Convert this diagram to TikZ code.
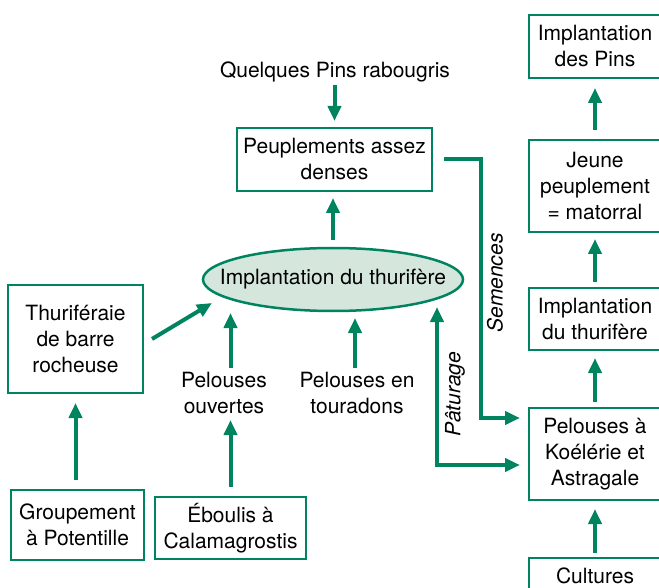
\documentclass[tikz,border=0pt]{standalone}
\usepackage{fontspec}
\setmainfont{TeX Gyre Heros}
\usetikzlibrary{arrows.meta,shapes.geometric}
\definecolor{vert}{HTML}{00845F}
\definecolor{vertpale}{HTML}{D5E6DD}
\begin{document}
\begin{tikzpicture}[x=1pt,y=-1pt,
  every node/.style={font=\fontsize{21}{26}\selectfont, align=center, inner sep=0pt, outer sep=0pt},
  box/.style={draw=vert, line width=2.5pt, fill=white},
  arr/.style={draw=vert, line width=4pt, -{Triangle[length=15pt,width=13pt]}},
  arrd/.style={draw=vert, line width=4pt, {Triangle[length=15pt,width=13pt]}-{Triangle[length=15pt,width=13pt]}},
  lbl/.style={font=\fontsize{21}{26}\selectfont\itshape, rotate=90}]
\useasboundingbox (0,0) rectangle (659,588);
% right column
\node[box, minimum width=132pt, minimum height=63pt] (pins) at (595,46.5) {Implantation\\des Pins};
\node[box, minimum width=132pt, minimum height=92pt] (jeune) at (595,186) {Jeune\\peuplement\\= matorral};
\node[box, minimum width=132pt, minimum height=62pt] (impr) at (595,319) {Implantation\\du thurifère};
\node[box, minimum width=132pt, minimum height=92pt] (koel) at (595,454) {Pelouses à\\Koélérie et\\Astragale};
\node[box, minimum width=132pt, minimum height=36pt] (cult) at (595,576) {Cultures};
% centre
\node[box, minimum width=195pt, minimum height=63pt] (peup) at (334.5,159.5) {Peuplements assez\\denses};
\node (quel) at (335,72) {Quelques Pins rabougris};
\node[ellipse, draw=vert, line width=2.5pt, fill=vertpale, minimum width=260pt, minimum height=63pt] (ell) at (333,279.5) {\makebox[0pt]{Implantation du thurifère}};
\node[box, minimum width=135pt, minimum height=108pt] (thur) at (75.5,339) {Thuriféraie\\de barre\\rocheuse};
\node[box, minimum width=133pt, minimum height=70pt] (grp) at (77.5,525) {Groupement\\à Potentille};
\node[box, minimum width=151pt, minimum height=62pt] (ebo) at (230.5,528) {Éboulis à\\Calamagrostis};
\node[minimum height=50pt] (ouv) at (224,393) {Pelouses\\ouvertes};
\node[minimum height=50pt] (tour) at (357,393) {Pelouses en\\touradons};
\node[lbl] (sem) at (495,283) {Semences};
\node[lbl] (pat) at (455,394.5) {Pâturage};
% arrows right column
\draw[arr, shorten <=10pt, shorten >=10pt] (jeune.north) -- (pins.south);
\draw[arr, shorten <=6pt, shorten >=7pt] (impr.north) -- (jeune.south);
\draw[arr, shorten <=6pt, shorten >=8pt] (koel.north) -- (impr.south);
\draw[arr, shorten <=5pt, shorten >=9pt] (cult.north) -- (koel.south);
% centre arrows
\draw[arr, shorten <=3pt, shorten >=7pt] (peup.north |- quel.south) -- (peup.north);
\draw[arr, shorten <=8pt, shorten >=7pt] (ell.north) -- (ell.north |- peup.south);
\draw[arr] ([xshift=9pt]thur.east) -- ([xshift=9pt,yshift=-23.5pt]ell.west);
\draw[arr, shorten <=10pt, shorten >=10pt] (thur.south |- grp.north) -- (thur.south);
\draw[arr, shorten <=10pt, shorten >=2pt] (ebo.north) -- (ebo.north |- ouv.south);
\draw[arr, shorten >=2pt] (ebo.north |- ouv.north) -- (ebo.north |- ell.south);
\draw[arr, shorten >=7pt] ([xshift=-2pt]tour.north) -- ([xshift=-2pt]tour.north |- ell.south);
% Semences
\draw[arr] ([xshift=12pt]peup.east) -| ([xshift=-48pt,yshift=-10pt]koel.north west) -- ([xshift=-9pt,yshift=-10pt]koel.north west);
% Paturage
\draw[arrd] ([xshift=-26pt,yshift=-27.5pt]ell.east) |- ([xshift=-9pt,yshift=-57pt]koel.north west);
\end{tikzpicture}
\end{document}
